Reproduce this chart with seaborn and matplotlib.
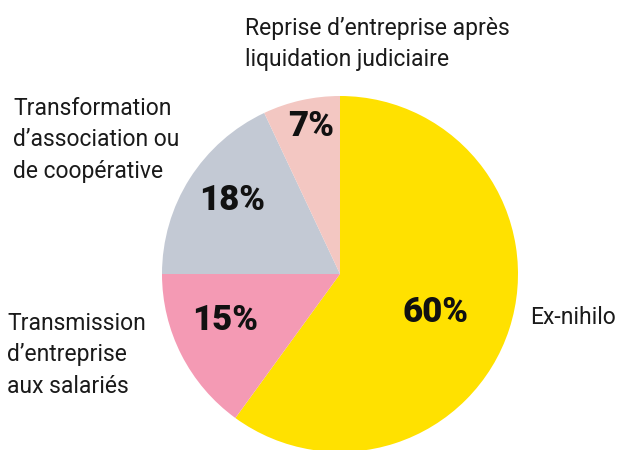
import matplotlib
matplotlib.use("Agg")
import matplotlib.pyplot as plt
import seaborn as sns

sns.set_theme(style="white")
plt.rcParams["font.family"] = ["Roboto", "DejaVu Sans"]

# data
categories = [
    "Ex-nihilo",
    "Transmission\nd\u2019entreprise\naux salariés",
    "Transformation\nd\u2019association ou\nde coopérative",
    "Reprise d\u2019entreprise après\nliquidation judiciaire",
]
shares = [60, 15, 18, 7]
colors = ["#FFE100", "#F49AB4", "#C3C9D4", "#F3C7C2"]

# label positions in pixels (x, y from top) for a 632x450 canvas
pct_pos = [(436, 313), (225, 321), (232, 200), (311, 126)]
cat_pos = [(530, 318), (7, 355), (13, 140), (245, 44)]

W, H = 632, 450
cx, cy, r = 340, 274, 178

fig = plt.figure(figsize=(W / 100, H / 100), dpi=100)
ax = fig.add_axes([(cx - r) / W, (H - cy - r) / H, 2 * r / W, 2 * r / H])
ax.pie(shares, colors=colors, startangle=90, counterclock=False,
       wedgeprops=dict(linewidth=0))
ax.set_xlim(-1, 1)
ax.set_ylim(-1, 1)
ax.set_aspect("equal")
ax.axis("off")

for v, (px, py) in zip(shares, pct_pos):
    fig.text(px / W, 1 - py / H, f"{v}%", ha="center", va="center",
             fontsize=25, fontweight=900, family=["Roboto", "DejaVu Sans"],
             fontstyle="normal", color="#111111")

for lab, (px, py) in zip(categories, cat_pos):
    fig.text(px / W, 1 - py / H, lab, ha="left", va="center",
             fontsize=16.5, color="#1a1a1a", linespacing=1.45)

fig.savefig("out.png", dpi=100)
